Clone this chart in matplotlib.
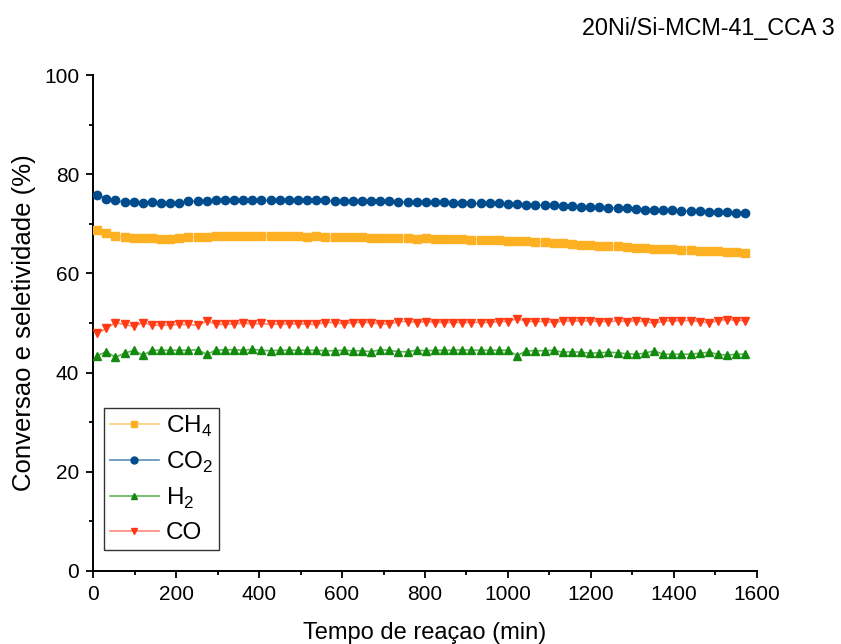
import numpy as np
import matplotlib
matplotlib.use("Agg")
import matplotlib.pyplot as plt
from matplotlib.lines import Line2D
from matplotlib.ticker import MultipleLocator

plt.rcParams['font.family'] = ['Liberation Sans', 'DejaVu Sans']
plt.rcParams['mathtext.fontset'] = 'custom'
plt.rcParams['mathtext.rm'] = 'Liberation Sans'

# reaction time (min), one point every 22 min
tempo = np.arange(72) * 22 + 10

ch4 = [68.75, 68.2, 67.6, 67.3, 67.1, 67.1, 67.1, 67.0, 67.0, 67.2, 67.3, 67.4, 67.4, 67.5, 67.6, 67.5, 67.5, 67.5,
       67.6, 67.6, 67.6, 67.6, 67.5, 67.4, 67.5, 67.4, 67.3, 67.3, 67.3, 67.3, 67.2, 67.2, 67.2, 67.2, 67.1, 67.0,
       67.1, 67.0, 67.0, 66.9, 66.9, 66.8, 66.8, 66.7, 66.7, 66.6, 66.5, 66.5, 66.4, 66.3, 66.2, 66.1, 65.9, 65.7,
       65.7, 65.6, 65.5, 65.5, 65.3, 65.2, 65.1, 65.0, 64.9, 64.9, 64.8, 64.7, 64.6, 64.5, 64.5, 64.3, 64.3, 64.1]

co2 = [75.9, 75.1, 74.7, 74.4, 74.3, 74.2, 74.3, 74.1, 74.1, 74.2, 74.5, 74.6, 74.6, 74.7, 74.8, 74.7, 74.7, 74.7,
       74.7, 74.7, 74.8, 74.8, 74.7, 74.7, 74.7, 74.7, 74.6, 74.6, 74.6, 74.6, 74.5, 74.5, 74.5, 74.4, 74.4, 74.3,
       74.3, 74.3, 74.4, 74.2, 74.1, 74.1, 74.1, 74.1, 74.1, 74.0, 73.9, 73.8, 73.8, 73.7, 73.7, 73.6, 73.5, 73.4,
       73.4, 73.3, 73.2, 73.2, 73.1, 73.0, 72.8, 72.8, 72.7, 72.7, 72.6, 72.6, 72.5, 72.4, 72.4, 72.3, 72.2, 72.1]

h2 = [43.4, 44.2, 43.1, 43.9, 44.5, 43.5, 44.5, 44.5, 44.5, 44.5, 44.5, 44.6, 43.7, 44.5, 44.6, 44.6, 44.5, 44.7,
      44.5, 44.4, 44.5, 44.5, 44.5, 44.5, 44.5, 44.4, 44.4, 44.5, 44.4, 44.4, 44.2, 44.6, 44.5, 44.2, 44.2, 44.5,
      44.4, 44.5, 44.5, 44.5, 44.6, 44.5, 44.5, 44.5, 44.5, 44.5, 43.4, 44.4, 44.4, 44.4, 44.5, 44.1, 44.2, 44.1,
      43.9, 44.0, 44.1, 44.0, 43.8, 43.7, 43.9, 44.4, 43.7, 43.7, 43.7, 43.7, 43.9, 44.1, 43.7, 43.5, 43.7, 43.7]

co = [47.9, 48.9, 50.1, 49.7, 49.3, 50.1, 49.6, 49.5, 49.6, 49.7, 49.7, 49.5, 50.4, 49.8, 49.7, 49.8, 50.0, 49.8,
      49.9, 49.7, 49.8, 49.8, 49.8, 49.8, 49.7, 50.1, 50.1, 49.8, 50.1, 50.1, 50.1, 49.8, 49.8, 50.3, 50.3, 50.1,
      50.3, 50.1, 50.1, 50.1, 50.1, 50.1, 50.1, 50.1, 50.3, 50.3, 50.9, 50.3, 50.3, 50.3, 50.1, 50.4, 50.4, 50.4,
      50.4, 50.3, 50.3, 50.4, 50.3, 50.4, 50.3, 49.9, 50.4, 50.4, 50.5, 50.5, 50.3, 50.0, 50.5, 50.7, 50.5, 50.5]

series = [
    ('CH$_4$', ch4, 's', '#FDB022', '#FDCF7A'),
    ('CO$_2$', co2, 'o', '#004C8C', '#5C8DB8'),
    ('H$_2$', h2, '^', '#138A0E', '#5DB355'),
    ('CO', co, 'v', '#FF3A14', '#FF8A78'),
]

fig = plt.figure(figsize=(8.41, 6.44), dpi=100)
ax = fig.add_axes([0.1106, 0.1134, 0.7895, 0.7701])

handles = []
for label, vals, mk, c, light in series:
    ax.plot(tempo, vals, '-', color=light, lw=1.2, zorder=2)
    ax.plot(tempo, vals, mk, color=c, ms=6, mec=c, ls='none', zorder=3)
    handles.append(Line2D([], [], color=light, lw=1.2, marker=mk, ms=5, mfc=c, mec=c, label=label))

ax.set_xlim(0, 1600)
ax.set_ylim(0, 100)
ax.xaxis.set_major_locator(MultipleLocator(200))
ax.xaxis.set_minor_locator(MultipleLocator(100))
ax.yaxis.set_major_locator(MultipleLocator(20))
ax.yaxis.set_minor_locator(MultipleLocator(10))
ax.tick_params(which='major', direction='out', length=5, width=1.3, labelsize=15, colors='black', pad=5)
ax.tick_params(which='minor', direction='out', length=3, width=1.3)

for s in ['top', 'right']:
    ax.spines[s].set_visible(False)
for s in ['left', 'bottom']:
    ax.spines[s].set_linewidth(1.4)

ax.set_xlabel('Tempo de reaçao (min)', fontsize=17, labelpad=13)
ax.set_ylabel('Conversao e seletividade (%)', fontsize=18.5, labelpad=6)

fig.text(0.993, 0.955, '20Ni/Si-MCM-41_CCA 3', ha='right', va='center', fontsize=16.8)

leg = ax.legend(handles=handles, loc='lower left', bbox_to_anchor=(0.0166, 0.042),
                fontsize=17.5, frameon=True, fancybox=False, edgecolor='black',
                handlelength=2.0, handletextpad=0.3, borderpad=0.25, labelspacing=0.45,
                numpoints=1, borderaxespad=0)
leg.get_frame().set_linewidth(1.0)

fig.savefig('out.png', dpi=100)
